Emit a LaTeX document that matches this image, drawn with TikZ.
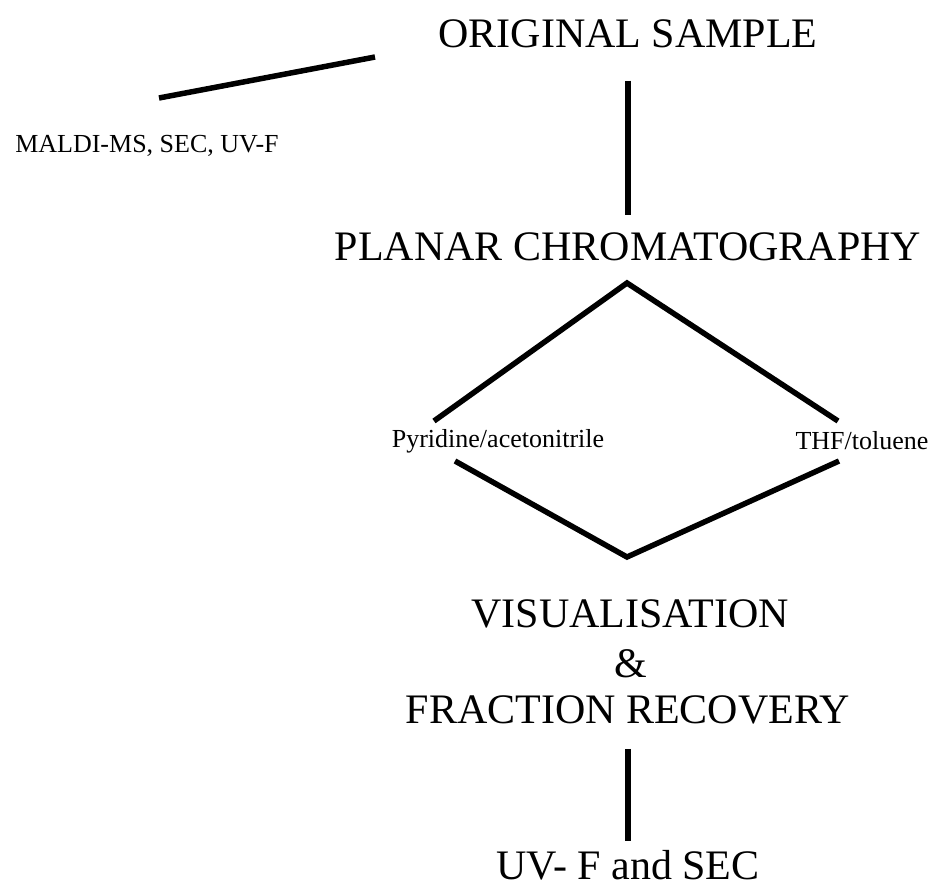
\documentclass[tikz,border=0pt]{standalone}
\usepackage{fontspec}
\setmainfont{Liberation Serif}

\begin{document}
\begin{tikzpicture}[x=1pt,y=1pt,
  title/.style={font=\fontsize{42}{48}\selectfont,anchor=base},
  solvent/.style={font=\fontsize{26}{30}\selectfont,anchor=base},
  bar/.style={black,line width=5.5pt}]
\tikzstyle{every node}+=[inner sep=0pt]
\useasboundingbox (0,0) rectangle (932,-887);
\draw (628,-47) node (orig) [title] {ORIGINAL SAMPLE};
\draw (147,-152) node (maldi) [solvent] {MALDI-MS, SEC, UV-F};
\draw (628,-260) node (planar) [title] {PLANAR CHROMATOGRAPHY};
\draw (498,-447) node (pyr) [solvent] {Pyridine/acetonitrile};
\draw (862,-449) node (thf) [solvent] {THF/toluene};
\draw (630,-627) node (vis) [title] {VISUALISATION};
\draw (631,-677) node (amp) [title] {\&};
\draw (628,-723) node (frac) [title] {FRACTION RECOVERY};
\draw (628,-879) node (uv) [title] {UV- F and SEC};
% side branch to the analyses
\coordinate (m1) at (159,-98);
\coordinate (m2) at (375,-57);
\draw [bar] (m1) -- (m2);
\draw [bar, shorten <=33pt, shorten >=17pt] (orig.south) -- (planar.north);
% the two solvent systems
\coordinate (top) at (627,-283);
\coordinate (bot) at (627,-557);
\coordinate (pyrA) at (434,-421);
\coordinate (pyrB) at (455,-461);
\coordinate (thfA) at (838,-421);
\coordinate (thfB) at (839,-461);
\draw [bar] (pyrA) -- (top) -- (thfA);
\draw [bar] (pyrB) -- (bot) -- (thfB);
\draw [bar, shorten <=25pt, shorten >=9pt] (frac.south) -- (uv.north);
\end{tikzpicture}
\end{document}
